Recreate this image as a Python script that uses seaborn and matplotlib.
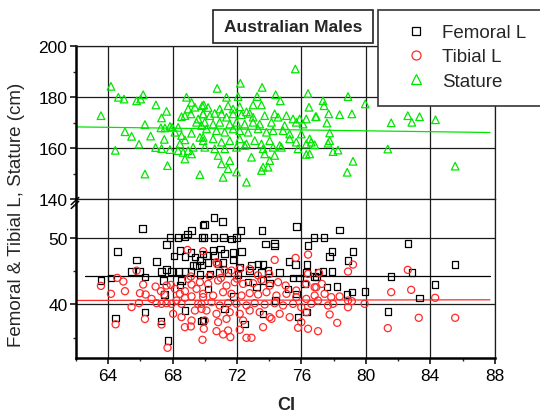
import matplotlib
matplotlib.use('Agg')
import matplotlib.pyplot as plt
import seaborn as sns
from matplotlib.patches import Rectangle
from matplotlib.lines import Line2D
from matplotlib.ticker import MultipleLocator

# ---------------- data ----------------
sta_ci = [64.18, 64.64, 64.99, 63.56, 65.77, 66.02, 66.18, 66.97, 67.63, 67.32, 66.29, 65.05, 65.46,
          66.64, 67.49, 65.92, 64.45, 66.95, 67.32, 67.84, 67.69, 66.29, 69.70,
          68.87, 69.18, 69.39, 68.97, 68.77, 68.56, 69.14, 69.59, 69.49, 69.80, 69.90, 69.84, 67.98,
          68.35, 68.15, 68.56, 69.18, 68.77, 68.46, 69.70, 69.90, 68.35, 68.66, 68.97, 69.18, 68.77,
          69.28, 67.28, 67.53, 67.84,
          75.62, 70.77, 72.21, 73.56, 71.35, 72.07, 73.25, 74.40, 74.69, 76.41, 76.47, 69.94, 70.21,
          70.93, 71.45, 71.76, 72.17, 72.59, 73.00, 73.52,
          69.90, 70.32, 70.62, 71.04, 71.35, 71.76, 72.28, 72.79, 73.00, 73.72, 74.34, 74.55, 75.07,
          75.48, 75.89, 76.30, 76.88,
          70.00, 70.52, 70.93, 71.55, 71.97, 72.48, 73.00, 73.41, 74.14, 74.96, 75.68, 76.10,
          70.11, 70.73, 71.24, 71.76, 72.17, 72.69, 73.31, 73.83, 74.24, 74.86, 75.27, 75.99, 76.51,
          69.90, 70.52, 71.04, 71.55, 72.17, 72.59, 73.10, 73.52, 74.03, 74.65, 75.27, 75.68, 76.30,
          76.61,
          70.00, 70.62, 71.24, 71.97, 72.48, 73.62, 74.24, 74.76, 75.79, 76.51,
          70.83, 71.55, 72.90, 73.72, 74.03, 74.34, 76.30,
          71.04, 71.45, 71.97, 73.52, 73.93, 73.62, 71.14, 72.59,
          78.89, 79.96, 77.34, 77.40, 76.92, 77.69, 78.37, 79.13, 77.58, 81.57, 82.60, 82.85, 83.33,
          77.75, 77.75, 77.65, 76.82, 77.96, 78.27, 81.36, 79.20, 78.84, 84.32, 85.54]
sta_val = [184.3, 180.0, 179.3, 172.8, 178.6, 179.3, 181.0, 177.0, 174.5, 171.9, 169.3, 166.5, 164.7,
           164.8, 163.5, 161.6, 159.2, 160.3, 159.9, 159.5, 153.2, 149.9, 149.7,
           180.0, 178.0, 176.1, 175.4, 172.8, 172.4, 173.5, 171.5, 170.2, 168.9, 173.5, 176.7, 168.2,
           168.2, 166.3, 165.0, 165.9, 163.3, 161.7, 164.3, 163.0, 159.1, 158.4, 159.1, 157.8, 155.8,
           160.4, 168.0, 168.0, 168.6,
           191.1, 183.5, 185.5, 183.9, 180.0, 180.3, 180.3, 181.0, 178.6, 181.5, 176.1, 177.0, 176.0,
           175.4, 176.7, 175.4, 176.3, 174.3, 177.0, 177.0,
           173.5, 172.8, 173.7, 173.5, 172.2, 173.5, 173.2, 173.7, 172.2, 172.8, 173.5, 172.2, 172.8,
           171.5, 171.5, 171.5, 172.4,
           170.2, 169.5, 170.2, 169.5, 170.2, 169.5, 170.2, 169.5, 170.2, 168.9, 170.2, 169.5,
           167.6, 166.9, 166.3, 167.6, 166.9, 166.3, 167.6, 166.3, 166.9, 166.9, 165.6, 165.6, 163.7,
           164.3, 163.7, 162.4, 163.0, 163.7, 161.7, 163.0, 161.7, 163.0, 161.1, 163.7, 162.4, 161.7,
           162.4,
           160.4, 159.8, 159.8, 160.4, 161.1, 159.8, 160.4, 160.4, 159.8, 157.8,
           157.2, 155.2, 156.5, 157.8, 155.2, 157.2, 157.6,
           153.9, 152.0, 150.7, 151.3, 152.6, 152.6, 148.6, 146.7,
           180.3, 177.4, 178.6, 176.7, 172.4, 173.5, 173.2, 173.5, 169.9, 170.0, 172.8, 170.2, 172.4,
           166.0, 163.0, 162.0, 161.4, 158.7, 159.3, 159.7, 154.9, 150.6, 171.2, 153.0]

fem_ci = [66.14, 64.59, 65.75, 67.01, 67.63, 67.84, 68.35, 68.77, 68.93, 69.18, 69.90, 69.84,
          68.10, 68.46, 68.77, 69.14, 69.39, 69.70, 69.90, 69.28, 69.49, 69.80,
          65.46, 66.29, 67.32, 67.63, 67.94, 68.39, 68.77, 69.14, 69.70,
          64.18, 63.56, 66.29, 64.45, 67.28, 67.73, 68.56, 68.46, 68.77, 69.80, 65.95, 67.44, 67.50,
          70.56, 70.00, 71.10, 72.24, 73.56, 75.68,
          69.94, 70.56, 71.18, 71.66, 71.97, 76.78,
          73.76, 74.34, 74.34, 76.41,
          70.52, 70.98, 71.24, 71.76, 72.28, 70.62, 70.11,
          70.21, 70.83, 71.14, 71.76, 72.17, 72.90, 73.31, 73.62, 75.23, 75.64, 76.35,
          70.32, 70.93, 71.45, 72.07, 72.79, 73.52, 73.93, 74.65, 75.48, 75.89, 76.30, 76.82, 77.03,
          72.69, 73.62, 74.03, 75.17, 75.68, 76.20,
          71.24, 73.62, 75.79, 76.30, 69.90, 72.48,
          70.20, 71.80, 73.20, 74.40,
          78.37, 77.40, 77.89, 79.20, 77.75, 78.89, 82.60, 77.34, 77.89, 76.92, 82.85, 81.57, 84.30,
          77.60, 78.22, 79.13, 79.96, 78.84, 83.33, 81.36, 85.54]
fem_val = [51.50, 48.03, 46.72, 46.52, 49.04, 50.09, 50.09, 50.19, 50.65, 51.15, 52.00, 50.10,
           47.28, 48.13, 47.23, 47.88, 47.13, 46.62, 47.63, 45.87, 45.87, 45.97,
           45.01, 44.11, 45.01, 45.27, 44.96, 45.01, 45.01, 45.01, 44.51,
           44.01, 43.61, 38.83, 37.98, 37.47, 34.56, 43.60, 42.95, 39.08, 37.47, 45.00, 43.60, 41.50,
           53.16, 52.05, 52.50, 51.15, 51.15, 51.75,
           50.14, 50.14, 50.14, 49.90, 50.14, 50.14,
           49.14, 49.24, 48.80, 48.90,
           48.13, 48.38, 47.73, 47.88, 47.98, 47.38, 47.38,
           46.37, 46.12, 46.37, 46.72, 45.62, 45.87, 46.12, 46.02, 46.52, 46.02, 46.02,
           44.61, 44.86, 44.86, 44.51, 45.12, 44.86, 45.12, 44.86, 44.00, 44.00, 44.86, 44.21, 44.86,
           43.36, 43.60, 43.20, 42.35, 41.60, 43.10,
           39.33, 38.58, 38.08, 38.83, 37.57, 37.07,
           42.30, 41.20, 42.60, 40.60,
           51.25, 50.14, 48.03, 48.03, 47.23, 46.62, 49.24, 45.01, 45.01, 44.11, 44.86, 44.21, 43.00,
           42.60, 42.70, 41.85, 41.95, 41.50, 41.00, 38.93, 46.02]

tib_ci = [63.56, 64.57, 64.95, 64.18, 65.05, 65.77, 66.18, 65.98, 66.33, 65.46, 65.92, 66.29, 64.47,
          66.95, 67.28, 67.49, 67.63, 67.90,
          66.70, 67.01, 67.32, 67.63, 67.94, 68.25, 68.56,
          68.04, 68.56, 69.18, 68.77, 69.14, 67.32, 67.69,
          68.15, 68.46, 68.77, 69.18, 69.49, 68.97, 69.14,
          68.77, 69.18, 69.59, 69.80, 69.90, 69.39, 68.93, 69.90,
          70.73, 71.24, 71.66, 72.17, 72.79, 74.34, 75.64, 76.41, 76.41, 77.09,
          69.70, 70.21, 70.83, 71.35, 71.86, 72.38, 73.00, 73.52, 74.03, 74.55, 75.02, 75.68, 76.30,
          76.82,
          69.90, 70.52, 71.14, 71.66, 72.28, 72.79, 73.31, 73.83, 74.45, 75.07, 75.68, 76.30, 76.82,
          69.80, 70.42, 70.93, 71.45, 71.97, 72.59, 73.10, 73.72, 74.34, 74.86, 75.48, 75.99, 76.61,
          77.03,
          70.11, 70.73, 71.55, 72.17, 72.79, 73.41, 74.03, 74.65, 75.27, 76.30,
          70.00, 70.83, 71.35, 72.38, 73.62, 74.14, 75.99,
          69.94, 70.73, 71.45, 72.17, 75.79, 76.41,
          69.86, 71.14, 71.59, 72.59, 72.90, 77.03,
          70.30, 71.00, 72.00, 73.30, 74.00, 70.76,
          79.20, 78.89, 82.60, 77.27, 76.92, 77.44, 77.85, 78.37, 78.89, 79.13, 79.92, 77.65, 77.96,
          78.89, 77.75, 78.22, 81.57, 82.81, 84.30, 81.36, 83.28, 85.54]
tib_val = [42.80, 44.01, 43.46, 41.60, 42.00, 45.10, 43.00, 41.70, 41.50, 39.60, 40.20, 37.80, 37.00,
           42.70, 42.00, 41.50, 42.85, 42.95,
           40.84, 40.19, 40.09, 40.19, 40.09, 40.59, 40.09,
           38.58, 38.08, 37.57, 36.57, 36.67, 36.97, 33.45,
           42.35, 41.60, 42.00, 43.00, 42.35, 43.86, 44.21,
           41.00, 41.20, 40.09, 39.33, 41.10, 39.08, 48.23, 48.03,
           46.37, 45.12, 45.12, 45.37, 45.37, 46.72, 47.03, 47.53, 44.61, 44.76,
           43.36, 43.10, 43.61, 42.85, 43.36, 43.10, 43.20, 43.71, 42.85, 43.36, 42.85, 42.10, 43.10,
           42.60,
           41.60, 41.34, 41.85, 41.60, 41.34, 41.70, 41.50, 41.85, 41.34, 41.60, 41.10, 40.84, 41.34,
           40.09, 40.34, 39.84, 40.19, 40.09, 39.84, 40.19, 39.99, 40.19, 39.84, 40.09, 39.58, 40.09,
           40.59,
           39.08, 38.58, 38.83, 38.58, 39.08, 38.83, 38.08, 38.58, 38.08, 38.83,
           37.57, 37.32, 37.82, 37.57, 36.57, 37.82, 37.32,
           36.32, 35.96, 36.06, 36.17, 36.47, 36.32,
           34.66, 35.46, 35.06, 34.96, 34.96, 35.96,
           44.30, 44.00, 43.90, 44.40, 44.60, 46.10,
           46.02, 44.96, 45.22, 43.10, 42.60, 41.60, 41.10, 41.20, 40.59, 40.49, 40.09, 39.84, 40.09,
           39.58, 38.48, 37.22, 41.85, 42.20, 41.00, 36.42, 37.98, 37.98]

# linear-fit lines (end points)
fit_x_sta = [62.0, 87.7]
fit_y_sta = [168.4, 166.2]
fit_x_fem = [62.6, 87.7]
fit_y_fem = [44.3, 44.3]
fit_x_tib = [62.0, 87.7]
fit_y_tib = [40.6, 40.7]

series_labels = ["Femoral L", "Tibial L", "Stature"]
title_text = "Australian Males"
x_label = "CI"
y_label = "Femoral & Tibial L, Stature (cm)"

# ---------------- styling ----------------
sns.set_style('ticks')
plt.rcParams['font.family'] = ['Liberation Sans', 'DejaVu Sans']

GREEN = '#00e600'
RED = '#ff2a2a'
BLACK = '#000000'
GRID = '#1c1c1c'

fig = plt.figure(figsize=(5.4, 4.14), dpi=100)
L, R = 0.1404, 0.9163
ybrk = 0.5162
ax_top = fig.add_axes([L, ybrk, R - L, 0.8857 - ybrk])
ax_bot = fig.add_axes([L, 0.1321, R - L, ybrk - 0.1321])
ax_bot.patch.set_alpha(0)

# scatter
sns.scatterplot(x=sta_ci, y=sta_val, ax=ax_top, marker='^', s=30,
                facecolor='none', edgecolor=GREEN, linewidth=0.9, zorder=3)
sns.scatterplot(x=fem_ci, y=fem_val, ax=ax_bot, marker='s', s=22,
                facecolor='none', edgecolor=BLACK, linewidth=0.9, zorder=3)
sns.scatterplot(x=tib_ci, y=tib_val, ax=ax_bot, marker='o', s=26,
                facecolor='none', edgecolor=RED, linewidth=0.9, zorder=4)

# fit lines
sns.lineplot(x=fit_x_sta, y=fit_y_sta, ax=ax_top, color=GREEN, linewidth=0.9, zorder=2)
sns.lineplot(x=fit_x_fem, y=fit_y_fem, ax=ax_bot, color=BLACK, linewidth=0.9, zorder=2)
sns.lineplot(x=fit_x_tib, y=fit_y_tib, ax=ax_bot, color=RED, linewidth=0.9, zorder=2)

for ax in (ax_top, ax_bot):
    ax.set_xlim(62, 88)
    ax.xaxis.set_major_locator(MultipleLocator(4))
    ax.xaxis.set_minor_locator(MultipleLocator(2))
    ax.grid(True, which='major', color=GRID, linewidth=0.9)
    ax.set_axisbelow(True)
    ax.set_xlabel('')
    ax.set_ylabel('')
    for sp in ax.spines.values():
        sp.set_color(GRID)
        sp.set_linewidth(0.9)
    ax.spines['left'].set_linewidth(1.8)
    ax.spines['left'].set_color('black')

ax_top.set_ylim(140, 200)
ax_top.yaxis.set_major_locator(MultipleLocator(20))
ax_top.yaxis.set_minor_locator(MultipleLocator(10))
ax_top.tick_params(axis='x', which='both', bottom=False, labelbottom=False)

ax_bot.set_ylim(31.86, 55.88)
ax_bot.yaxis.set_major_locator(MultipleLocator(10))
ax_bot.yaxis.set_minor_locator(MultipleLocator(5))
ax_bot.spines['top'].set_visible(False)
ax_bot.spines['bottom'].set_linewidth(1.8)
ax_bot.spines['bottom'].set_color('black')

for ax in (ax_top, ax_bot):
    ax.tick_params(axis='y', which='major', direction='out', length=4, width=1.1,
                   pad=2, labelsize=12.5, colors='black', left=True)
    ax.tick_params(axis='y', which='minor', direction='out', length=2.5, width=1.0, left=True)
ax_bot.tick_params(axis='x', which='major', direction='out', length=4, width=1.1,
                   pad=3, labelsize=12.5, colors='black', bottom=True)
ax_bot.tick_params(axis='x', which='minor', direction='out', length=2.5, width=1.0, bottom=True)

# axis break marks
bk = dict(transform=ax_top.transAxes, color='black', clip_on=False, linewidth=1.1, zorder=10)
ax_top.plot([-0.011, 0.007], [-0.035, 0.012], **bk)
ax_top.plot([-0.011, 0.007], [-0.060, -0.013], **bk)

# labels
fig.text(17 / 540, 1 - 215 / 414, y_label, rotation=90, ha='center', va='center', fontsize=13.5)
fig.text(285.8 / 540, 1 - 406 / 414, x_label, ha='center', va='center', fontsize=13, fontweight='bold')

# title box
fig.patches.append(Rectangle((212.5 / 540, 1 - 43.7 / 414), 160.5 / 540, 33 / 414,
                             transform=fig.transFigure, fill=False, edgecolor='#222222',
                             linewidth=1.2))
fig.text(292.7 / 540, 1 - 27.5 / 414, title_text, ha='center', va='center',
         fontsize=12.5, fontweight='bold')

# legend box + legend
fig.patches.append(Rectangle((377.8 / 540, 1 - 107 / 414), 0.4, 96.3 / 414,
                             transform=fig.transFigure, fill=True, facecolor='white',
                             edgecolor='#333333', linewidth=1.2, zorder=5))
handles = [
    Line2D([], [], linestyle='none', marker='s', markersize=6, markerfacecolor='none',
           markeredgecolor=BLACK, markeredgewidth=0.9),
    Line2D([], [], linestyle='none', marker='o', markersize=6.5, markerfacecolor='none',
           markeredgecolor=RED, markeredgewidth=0.9),
    Line2D([], [], linestyle='none', marker='^', markersize=7, markerfacecolor='none',
           markeredgecolor=GREEN, markeredgewidth=0.9),
]
leg = fig.legend(handles, series_labels, loc='upper left',
                 bbox_to_anchor=(406.6 / 540, 1 - 25.0 / 414), frameon=False,
                 fontsize=13.5, handlelength=1.0, handletextpad=0.91, borderpad=0,
                 borderaxespad=0, labelspacing=0.38)
leg.set_zorder(6)

fig.savefig('out.png', dpi=100)
